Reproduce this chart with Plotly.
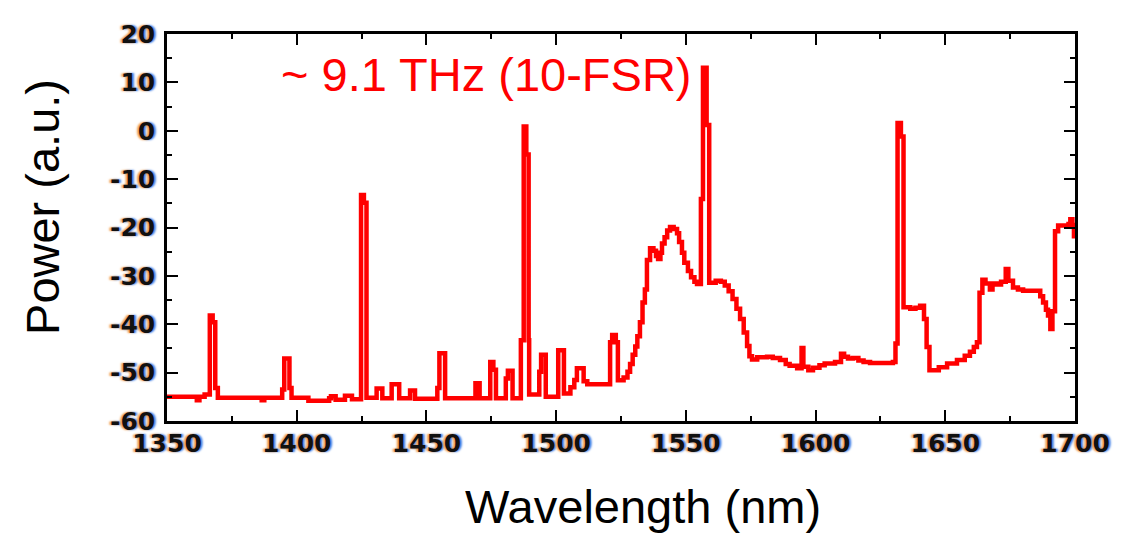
import plotly.graph_objects as go

# Spectrum step points (wavelength in nm, power in a.u.)
WAVELENGTH = [
    1350, 1361.5, 1362.5, 1364.5, 1366.5, 1367.6, 1368.6, 1369.6, 1386.5, 1387.5,
    1394.4, 1395.2, 1397.2, 1398.0, 1404.5, 1412.5, 1413.2, 1415.0, 1418.6, 1421.3,
    1424.8, 1425.9, 1426.9, 1430.8, 1433.0, 1436.6, 1439.5, 1443.7, 1445.6, 1454.2,
    1455.0, 1457.2, 1468.9, 1470.5, 1474.6, 1475.8, 1476.8, 1480.6, 1481.4, 1483.2,
    1486.4, 1487.5, 1488.5, 1489.4, 1489.6, 1493.5, 1494.2, 1496.0, 1500.8, 1503.0,
    1505.5, 1507.0, 1508.0, 1510.6, 1512.0, 1520.8, 1521.6, 1523.0, 1523.8, 1526.0,
    1527.5, 1528.5, 1529.5, 1530.5, 1531.3, 1532.3, 1533.3, 1534.2, 1535.0, 1536.2,
    1537.5, 1538.5, 1539.3, 1540.2, 1540.8, 1541.8, 1542.8, 1543.9, 1545.3, 1546.6,
    1547.4, 1548.5, 1549.4, 1550.8, 1552.0, 1553.3, 1554.3, 1555.8, 1556.6, 1558.0,
    1559.0, 1561.5, 1563.5, 1565.0, 1566.5, 1568.0, 1569.5, 1570.9, 1572.3, 1573.6,
    1574.5, 1575.5, 1577.5, 1581.3, 1583.5, 1586.3, 1588.5, 1590.0, 1592.9, 1594.6,
    1595.3, 1597.2, 1599.0, 1601.5, 1603.5, 1607.5, 1609.8, 1611.0, 1612.5, 1614.4,
    1616.5, 1618.5, 1621.0, 1629.8, 1630.8, 1631.6, 1632.9, 1633.9, 1636.5, 1638.5,
    1640.3, 1641.8, 1642.8, 1643.9, 1647.5, 1650.7, 1654.5, 1657.5, 1659.5, 1661.0,
    1662.2, 1663.2, 1664.3, 1665.5, 1667.2, 1668.2, 1669.9, 1671.5, 1673.3, 1674.3,
    1676.1, 1678.0, 1680.0, 1685.4, 1686.6, 1687.7, 1688.8, 1689.6, 1690.5, 1691.3,
    1692.3, 1693.5, 1697.5, 1698.2, 1699.0, 1699.6, 1700.0,
]
POWER = [
    -55.0, -55.7, -55.0, -54.5, -38.2, -39.6, -53.2, -55.2, -55.7, -55.2,
    -53.5, -47.1, -53.2, -55.2, -55.8, -55.3, -54.9, -55.6, -54.8, -55.5,
    -13.3, -14.9, -55.2, -53.3, -55.3, -52.4, -55.3, -53.7, -55.4, -53.2,
    -46.0, -55.3, -52.2, -55.3, -47.8, -49.4, -55.3, -51.2, -49.6, -55.3,
    -43.3, 0.9, -4.9, -43.3, -54.5, -49.8, -46.3, -55.0, -45.4, -54.3,
    -53.0, -51.5, -49.1, -51.8, -52.4, -43.7, -42.2, -43.7, -51.6, -51.0,
    -49.8, -48.2, -46.3, -44.6, -42.5, -39.6, -35.5, -32.8, -26.7, -24.3,
    -24.8, -25.9, -26.5, -25.2, -23.3, -22.0, -20.6, -19.9, -20.3, -21.2,
    -23.0, -25.2, -27.3, -29.0, -30.3, -31.2, -31.7, -14.1, 13.0, 1.2,
    -31.4, -31.0, -31.2, -32.0, -33.2, -34.8, -36.8, -38.9, -41.7, -44.5,
    -46.6, -47.3, -46.8, -46.7, -47.0, -47.4, -48.2, -48.6, -49.1, -44.9,
    -48.8, -49.5, -49.0, -48.5, -48.1, -47.8, -46.1, -46.7, -47.1, -47.0,
    -47.5, -47.8, -48.0, -47.8, -44.0, 1.6, -1.2, -36.5, -36.8, -36.6,
    -36.2, -38.9, -44.7, -49.5, -48.9, -48.1, -47.4, -46.5, -45.7, -44.7,
    -43.7, -33.5, -30.8, -31.6, -32.8, -31.6, -31.8, -31.2, -28.6, -31.0,
    -32.4, -32.8, -33.1, -33.1, -34.2, -35.5, -37.0, -38.2, -41.0, -37.3,
    -20.8, -19.6, -19.3, -18.3, -19.5, -21.8, -21.8,
]

X_TICKS = [1350, 1400, 1450, 1500, 1550, 1600, 1650, 1700]
Y_TICKS = [-60, -50, -40, -30, -20, -10, 0, 10, 20]
X_TITLE = "Wavelength (nm)"
Y_TITLE = "Power (a.u.)"
NOTE = "~ 9.1 THz (10-FSR)"

tick_font = dict(family="DejaVu Sans", size=25, color="#111111", weight="bold",
                 shadow="-2px 0px 2px #f0a050, 2px 0px 2px #4a86e8")

fig = go.Figure()
fig.add_trace(go.Scatter(
    x=WAVELENGTH, y=POWER, mode="lines",
    line=dict(color="#ff0000", width=4.5, shape="hv"),
    showlegend=False, hoverinfo="x+y",
))

axis_common = dict(
    showline=True, linecolor="black", linewidth=2.5, mirror="allticks",
    ticks="inside", ticklen=11, tickwidth=2, tickcolor="black",
    showgrid=False, zeroline=False, tickfont=tick_font,
)

fig.update_xaxes(
    range=[1350, 1700], tickvals=X_TICKS, ticktext=[str(v) for v in X_TICKS],
    minor=dict(ticks="inside", ticklen=5, tickwidth=2, tickcolor="black", dtick=25, tick0=1350),
    ticklabelstandoff=-2,
    **axis_common,
)
fig.update_yaxes(
    range=[-60, 20], tickvals=Y_TICKS, ticktext=[str(v) for v in Y_TICKS],
    minor=dict(ticks="inside", ticklen=5, tickwidth=2, tickcolor="black", dtick=5, tick0=-60),
    ticklabelstandoff=4,
    **axis_common,
)

title_font = dict(family="Liberation Sans", size=47, color="black")
fig.add_annotation(text=X_TITLE, xref="paper", yref="paper", x=0.524, y=-0.222,
                   xanchor="center", yanchor="middle", showarrow=False, font=title_font)
fig.add_annotation(text=Y_TITLE, xref="paper", yref="paper", x=-0.1366, y=0.553,
                   xanchor="center", yanchor="middle", textangle=-90, showarrow=False,
                   font=title_font)
fig.add_annotation(text=NOTE, xref="x", yref="y", x=1473, y=11.6,
                   xanchor="center", yanchor="middle", showarrow=False,
                   font=dict(family="Liberation Sans", size=47, color="#ff0000"))

# The page body adds an 8px margin, so the figure is 8px smaller on each axis.
fig.update_layout(
    width=1124, height=525,
    margin=dict(l=159, r=57, t=20, b=112),
    paper_bgcolor="white", plot_bgcolor="white",
)

fig.write_html("out.html")
